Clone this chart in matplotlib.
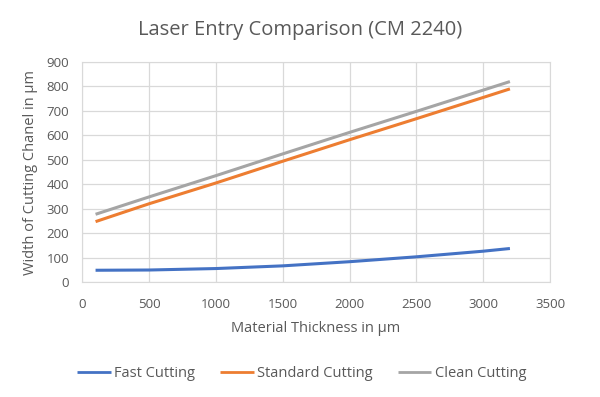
import matplotlib
matplotlib.use("Agg")
import matplotlib.pyplot as plt

thickness = [100, 500, 1000, 1500, 2000, 2500, 3000, 3200]
fast = [48, 49, 55, 66, 83, 103, 126, 137]
standard = [247, 320, 405, 494, 582, 668, 755, 790]
clean = [277, 348, 435, 524, 612, 698, 785, 820]

plt.rcParams['font.family'] = ['Open Sans', 'DejaVu Sans']
txt = '#595959'
fig = plt.figure(figsize=(6, 3.97), dpi=100)
ax = fig.add_axes([0.137, 0.2897, 0.7797, 0.5541])

ax.plot(thickness, fast, color='#4472C4', lw=2.2, label='Fast Cutting', solid_capstyle='butt')
ax.plot(thickness, standard, color='#ED7D31', lw=2.2, label='Standard Cutting', solid_capstyle='butt')
ax.plot(thickness, clean, color='#A5A5A5', lw=2.2, label='Clean Cutting', solid_capstyle='butt')

ax.set_xlim(0, 3500)
ax.set_ylim(0, 900)
ax.set_xticks(range(0, 3501, 500))
ax.set_yticks(range(0, 901, 100))
ax.grid(True, color='#D9D9D9', lw=0.9)
ax.set_axisbelow(True)
for s in ax.spines.values():
    s.set_color('#D9D9D9')
ax.tick_params(length=0, labelsize=9.5, colors=txt)
ax.tick_params(axis='x', pad=11.7)
ax.tick_params(axis='y', pad=9.5)
ax.set_xlabel('Material Thickness in µm', fontsize=10.5, color=txt, labelpad=7)
ax.set_ylabel('Width of Cutting Chanel in µm', fontsize=10.5, color=txt, labelpad=6)
fig.text(0.5, 0.924, 'Laser Entry Comparison (CM 2240)', fontsize=14.5, color=txt,
         ha='center', va='center')
leg = fig.legend(loc='center', bbox_to_anchor=(0.503, 0.058), ncol=3, frameon=False,
                 fontsize=10.5, labelcolor=txt, handlelength=2.3, columnspacing=1.7,
                 handletextpad=0.25)
for line in leg.get_lines():
    line.set_linewidth(2.0)
fig.savefig('out.png', dpi=100)
